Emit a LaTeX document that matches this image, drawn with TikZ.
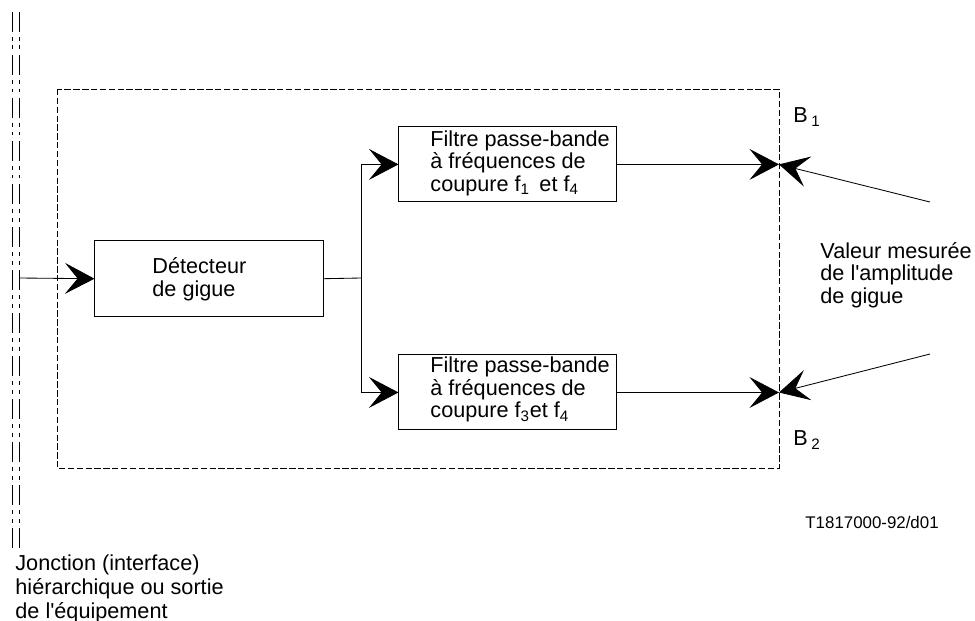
\documentclass[tikz,border=0pt]{standalone}
\usepackage{fontspec}
\setmainfont{Liberation Sans}[Ligatures=TeXOff]
\usetikzlibrary{arrows.meta,positioning}

\begin{document}
\begin{tikzpicture}[x=0.025cm,y=-0.025cm,>={Stealth[length=21pt,width=22pt,inset=9pt]},
        line width=0.6pt,
        bloc/.style={draw,line width=0.7pt,minimum width=5.425cm,minimum height=1.875cm,inner sep=0pt},
        texte/.style={align=left,inner sep=0pt,font=\fontsize{15.4}{16}\selectfont},
        cadre/.style={draw,line width=0.7pt,dash pattern=on 4.5pt off 1.8pt},
        jonction/.style={line width=0.5pt,dash pattern=on 14pt off 3.5pt on 2.8pt off 3.5pt on 2.8pt off 4pt}]
        \useasboundingbox (0,0) rectangle (975,620);

        % jonction et cadre
        \draw[jonction] (12,12) -- (12,552);
        \draw[jonction] (19,12) -- (19,552);
        \draw[cadre] (57,89) rectangle (779,468);

        \node[bloc, minimum width=5.7cm, minimum height=1.9cm] (det) at (209,278.7) {};
        \node[texte, anchor=west] (dettxt) at (152,279.5) {Détecteur\\de gigue};
        \node[bloc] (f1) at (507.5,164.4) {};
        \node[bloc] (f2) [below=3.8cm of f1] {};
        \node[texte, anchor=west] (f1txt) at (430,163) {Filtre passe-bande\\à fréquences de\\coupure f\textsubscript{1}\, et f\textsubscript{4}};
        \node[texte, anchor=west] (f2txt) at (430,389.5) {Filtre passe-bande\\à fréquences de\\coupure f\textsubscript{3}et f\textsubscript{4}};

        \coordinate (entree) at (19,278);
        \coordinate (nd) at (361,278);
        \coordinate (b1) at (779,164.4);
        \coordinate (b2) at (779,392.5);
        \coordinate (m1) at (930,202);
        \coordinate (m2) at (930,354);

        \path[->] (entree) edge (det.west);
        \draw (det.east) -- (nd);
        \draw[->] (nd) |- (f1.west);
        \draw[->] (nd) |- (f2.west);
        \path[->] (f1.east) edge (b1);
        \path[->] (f2.east) edge (b2);
        \path[->] (m1) edge (b1);
        \path[->] (m2) edge (b2);

        \node[texte, anchor=west] (lb1) at (793,117) {B\,\textsubscript{1}};
        \node[texte, anchor=west] (lb2) at (793,440) {B\,\textsubscript{2}};
        \node[texte, anchor=west] (mesure) at (820,275) {Valeur mesurée\\de l'amplitude\\de gigue};
        \node[texte, anchor=west, font=\fontsize{12}{14}\selectfont] (ref) at (805,522) {T1817000-92/d01};
        \node[texte, anchor=west, font=\fontsize{15.4}{17}\selectfont] (jonc) at (15,589) {Jonction (interface)\\hiérarchique ou sortie\\de l'équipement};
      \end{tikzpicture}
\end{document}
